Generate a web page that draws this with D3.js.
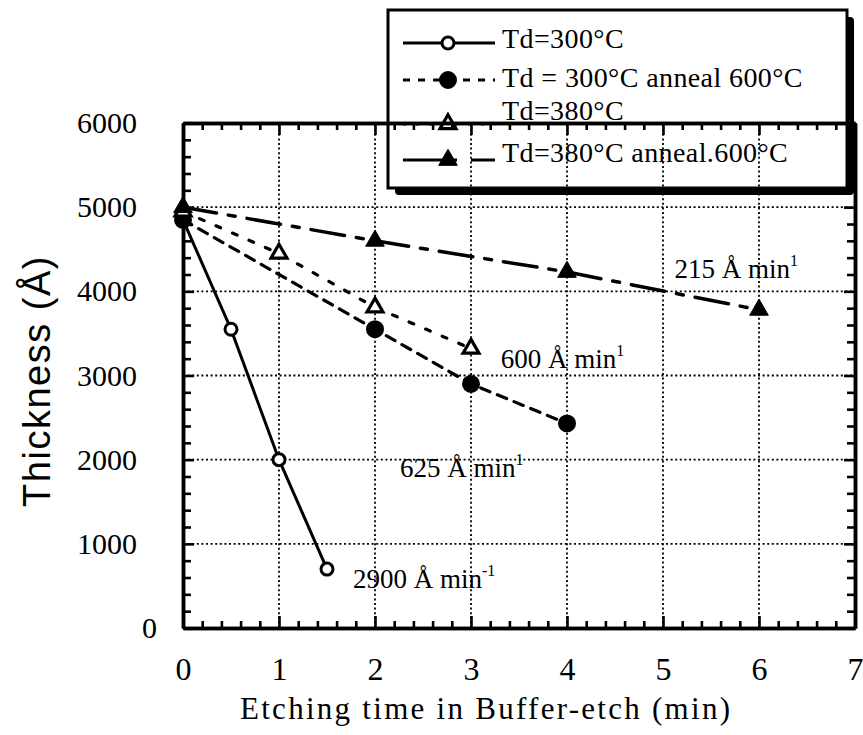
<!DOCTYPE html>
<html><head><meta charset="utf-8">
<script src="https://cdn.jsdelivr.net/npm/d3@7"></script>
<style>body{margin:0;background:#fff} svg{display:block}</style>
</head><body>
<svg id="c" width="863" height="735"></svg>
<script>
// ---------- data ----------
const xTicks = [0, 1, 2, 3, 4, 5, 6, 7];
const yTicks = [0, 1000, 2000, 3000, 4000, 5000, 6000];
const seriesNames = ["Td=300°C", "Td = 300°C anneal 600°C", "Td=380°C", "Td=380°C anneal.600°C"];
const td300Time = [0, 0.5, 1, 1.5];
const td300Thick = [4850, 3550, 2000, 700];
const td300AnnTime = [0, 2, 3, 4];
const td300AnnThick = [4850, 3550, 2900, 2430];
const td380Time = [0, 1, 2, 3];
const td380Thick = [4950, 4450, 3810, 3320];
const td380AnnTime = [0, 2, 4, 6];
const td380AnnThick = [5000, 4600, 4230, 3780];
const rateText = ["2900 Å min", "625 Å min", "600 Å min", "215 Å min"];
const rateSup = ["-1", "1", "1", "1"];
// annotation anchor (data units: time, thickness at text baseline)
const rateAtTime = [1.77, 2.26, 3.31, 5.12];
const rateAtThick = [475, 1795, 3090, 4160];

// ---------- setup ----------
const svg = d3.select("#c");
const serif = "'Liberation Serif','Times New Roman',serif";
const sans = "'Liberation Sans',Arial,sans-serif";
const x = d3.scaleLinear().domain([0, 7]).range([183, 855]);
const y = d3.scaleLinear().domain([0, 6000]).range([628, 123]);

const styles = [
  {dash: null, marker: "circle", fill: "#fff", w: 3},
  {dash: "10,8", marker: "circle", fill: "#000", w: 3.2},
  {dash: "5,13", marker: "triangle", fill: "#fff", w: 3.2},
  {dash: "34,12,7,12", marker: "triangle", fill: "#000", w: 3.5}
];
const legendDash = [null, "7,8", "3,10", "54,14,40"];
const series = [
  d3.zip(td300Time, td300Thick),
  d3.zip(td300AnnTime, td300AnnThick),
  d3.zip(td380Time, td380Thick),
  d3.zip(td380AnnTime, td380AnnThick)
];

function drawMarker(g, kind, fill, cx, cy) {
  if (kind === "circle") {
    g.append("circle").attr("cx", cx).attr("cy", cy)
      .attr("r", fill === "#000" ? 7.5 : 6)
      .attr("fill", fill).attr("stroke", "#000").attr("stroke-width", 3);
  } else {
    g.append("path").attr("d", d3.symbol(d3.symbolTriangle, fill === "#000" ? 150 : 110)())
      .attr("transform", `translate(${cx},${cy})`)
      .attr("fill", fill).attr("stroke", "#000").attr("stroke-width", fill === "#000" ? 1 : 3.2);
  }
}

// ---------- legend (drawn first; plot frame overlays it) ----------
const lg = {x: 388, y: 10, w: 459, h: 178};
svg.append("rect").attr("x", lg.x + 7).attr("y", lg.y + 7).attr("width", lg.w).attr("height", lg.h)
  .attr("fill", "#000").attr("rx", 4);
svg.append("rect").attr("x", lg.x).attr("y", lg.y).attr("width", lg.w).attr("height", lg.h)
  .attr("fill", "#fff").attr("stroke", "#000").attr("stroke-width", 3);
const legMarkY = [43, 80, 124, 160];
const legTextY = [48, 87, 120, 162];
const leg = svg.append("g");
seriesNames.forEach((name, i) => {
  leg.append("line").attr("x1", 403).attr("x2", 495).attr("y1", legMarkY[i]).attr("y2", legMarkY[i])
    .attr("stroke", "#000").attr("stroke-width", 3)
    .attr("stroke-dasharray", legendDash[i]);
  drawMarker(leg, styles[i].marker, styles[i].fill, 448, legMarkY[i]);
  leg.append("text").attr("x", 502).attr("y", legTextY[i]).text(name)
    .attr("font-family", serif).attr("font-size", 28).attr("letter-spacing", 0.4).attr("fill", "#000");
});

// ---------- grid ----------
const grid = svg.append("g").attr("stroke", "#000").attr("stroke-width", 1.8).attr("stroke-dasharray", "2,2.6");
grid.selectAll(".gx").data(xTicks.filter(d => d > 0 && d < 7)).join("line")
  .attr("x1", d => x(d)).attr("x2", d => x(d)).attr("y1", y(0)).attr("y2", y(6000));
grid.selectAll(".gy").data(yTicks.filter(d => d > 0 && d < 6000)).join("line")
  .attr("y1", d => y(d)).attr("y2", d => y(d)).attr("x1", x(0)).attr("x2", x(7));

// ---------- axes ----------
const minorX = d3.range(0, 36).map(i => i / 5).filter(v => Math.abs(v - Math.round(v)) > 1e-6);
const minorY = d3.range(0, 6001, 200).filter(v => v % 1000 !== 0);
function styleAxis(g) {
  g.selectAll(".domain").attr("stroke", "#000").attr("stroke-width", 3.5);
  g.selectAll(".tick line").attr("stroke", "#000").attr("stroke-width", 2.6);
}
// bottom
svg.append("g").attr("transform", `translate(0,${y(0)})`)
  .call(d3.axisBottom(x).tickValues(minorX).tickSize(-7).tickSizeOuter(0).tickFormat(""))
  .call(styleAxis);
const xb = svg.append("g").attr("transform", `translate(0,${y(0)})`)
  .call(d3.axisBottom(x).tickValues(xTicks).tickSize(-12).tickSizeOuter(0).tickPadding(29).tickFormat(d3.format("d")))
  .call(styleAxis);
xb.selectAll("text").attr("font-family", serif).attr("font-size", 32).attr("fill", "#000");
// top
svg.append("g").attr("transform", `translate(0,${y(6000)})`)
  .call(d3.axisTop(x).tickValues(minorX).tickSize(-7).tickSizeOuter(0).tickFormat(""))
  .call(styleAxis);
svg.append("g").attr("transform", `translate(0,${y(6000)})`)
  .call(d3.axisTop(x).tickValues(xTicks).tickSize(-12).tickSizeOuter(0).tickFormat(""))
  .call(styleAxis);
// left
svg.append("g").attr("transform", `translate(${x(0)},0)`)
  .call(d3.axisLeft(y).tickValues(minorY).tickSize(-8).tickSizeOuter(0).tickFormat(""))
  .call(styleAxis);
const yl = svg.append("g").attr("transform", `translate(${x(0)},0)`)
  .call(d3.axisLeft(y).tickValues(yTicks).tickSize(-11).tickSizeOuter(0).tickPadding(46).tickFormat(d3.format("d")))
  .call(styleAxis);
yl.selectAll("text").attr("font-family", serif).attr("font-size", 30).attr("fill", "#000");
yl.selectAll(".tick").filter(d => d === 0).select("text").attr("x", -26);
// right
svg.append("g").attr("transform", `translate(${x(7)},0)`)
  .call(d3.axisRight(y).tickValues(minorY).tickSize(-8).tickSizeOuter(0).tickFormat(""))
  .call(styleAxis);
svg.append("g").attr("transform", `translate(${x(7)},0)`)
  .call(d3.axisRight(y).tickValues(yTicks).tickSize(-11).tickSizeOuter(0).tickFormat(""))
  .call(styleAxis);

// ---------- series ----------
const line = d3.line().x(d => x(d[0])).y(d => y(d[1]));
series.forEach((pts, i) => {
  svg.append("path").attr("d", line(pts)).attr("fill", "none").attr("stroke", "#000")
    .attr("stroke-width", styles[i].w).attr("stroke-dasharray", styles[i].dash)
    .attr("stroke-linecap", styles[i].dash ? "round" : "butt");
});
const mk = svg.append("g");
series.forEach((pts, i) => {
  pts.forEach(p => drawMarker(mk, styles[i].marker, styles[i].fill, x(p[0]), y(p[1])));
});

// ---------- rate annotations ----------
rateText.forEach((t, i) => {
  const tx = svg.append("text").attr("x", x(rateAtTime[i])).attr("y", y(rateAtThick[i]))
    .attr("font-family", serif).attr("font-size", 27).attr("fill", "#000");
  tx.append("tspan").text(t);
  tx.append("tspan").attr("dy", -12).attr("font-size", 16).text(rateSup[i]);
});

// ---------- axis titles ----------
svg.append("text").attr("x", 240).attr("y", 719).attr("textLength", 490).attr("lengthAdjust", "spacing")
  .attr("font-family", serif).attr("font-size", 31).attr("fill", "#000")
  .text("Etching time in Buffer-etch (min)");
svg.append("text").attr("transform", "translate(50,381) rotate(-90)").attr("text-anchor", "middle")
  .attr("font-family", sans).attr("font-size", 38).attr("letter-spacing", 1.5).attr("fill", "#000")
  .text("Thickness (Å)");
</script>
</body></html>
